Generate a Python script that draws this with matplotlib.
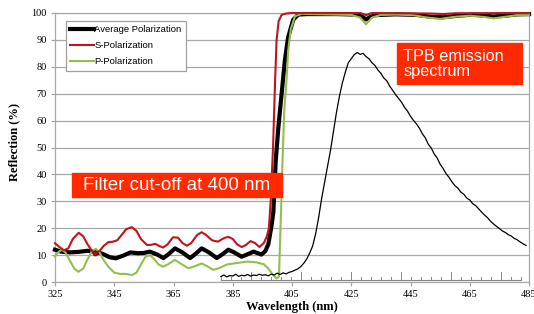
import numpy as np
import matplotlib
matplotlib.use("Agg")
import matplotlib.pyplot as plt
from matplotlib.patches import Rectangle

# reflection curves of the filter (wavelength in nm, reflection in %)
avg_x = [325, 327, 330, 333, 336, 338.5, 341, 343.5, 345.5, 348, 350.5, 353, 355, 357,
         359.5, 361.6, 363.5, 365.5, 368, 370.6, 372.5, 374.5, 377, 379.6, 381.5, 383.5,
         385.5, 388, 390, 392, 394.7, 396, 397, 398.1, 398.7, 399.5, 400.4, 401.5, 402.6,
         403.7, 405.4, 407.1, 410, 420, 427, 428.5, 430, 431.5, 433, 440, 447, 452, 456,
         461, 466, 470, 473, 477, 481, 485]
avg_y = [12, 11.3, 11, 11.2, 11.6, 11.2, 10.5, 9.2, 8.8, 9.8, 11, 10.7, 10.8, 11.3,
         10.2, 8.9, 10.5, 12.5, 11, 8.9, 10.5, 12.5, 11, 8.9, 10.3, 12,
         11, 9.4, 10.3, 11.3, 10.2, 11.5, 14, 21, 26, 45, 57.5, 70, 82.5,
         91, 97.5, 99.4, 99.6, 99.6, 99.4, 98.8, 97.6, 98.6, 99.2, 99.5, 99.3, 98.6, 98.4,
         99.0, 99.4, 99.0, 98.7, 99.0, 99.5, 99.6]

s_x = [325, 326.5, 328, 329.5, 331, 333, 334.5, 336, 337.5, 338.5, 340, 341.5, 343, 344.6,
       346, 347.5, 349, 350.9, 352.5, 354, 356, 357.5, 358.8, 360, 361.5, 363, 364.8,
       366.5, 368, 369.5, 371, 373, 374.5, 376, 378, 380, 382, 383.5, 385, 386.5, 388,
       389.5, 391, 392.5, 394, 395.5, 396.5, 397.2, 397.8, 398.6, 399.3, 399.8, 400.5,
       401.5, 403, 405, 428, 430, 432, 452, 456, 460, 485]
s_y = [14.4, 13, 11.8, 12.5, 16, 18.3, 17, 14, 11.5, 10.8, 11.5, 13.5, 14.8, 15,
       15.5, 17.5, 19.6, 20.4, 19, 16, 13.8, 13.8, 14.2, 13.5, 12.8, 14, 16.6,
       16.5, 14.5, 13.5, 14.5, 17.5, 18.5, 17.5, 15.5, 15, 16.3, 16.8, 16, 14, 13,
       13.8, 15.2, 14.5, 13, 14.5, 17, 20, 30, 50, 75, 90, 97,
       99.3, 99.8, 100, 100, 99.2, 100, 99.8, 99.6, 99.9, 100]

p_x = [325, 326, 327.3, 328.5, 330, 331.5, 332.9, 334.5, 336, 337.5, 338.8, 340, 341.5,
       343, 345, 347, 349, 351, 352.5, 354, 355.5, 357, 358.5, 360, 361.5, 363, 365.5,
       367.5, 370, 372, 374.5, 376.5, 378.4, 380.5, 383, 386, 390, 393, 395.5, 397, 398.7,
       399.8, 400.6, 401.3, 401.8, 402.4, 403.2, 403.7, 404.6, 406, 408.3, 411, 415, 420,
       425, 428, 430, 432, 435, 440, 446, 450, 455, 460, 465, 470, 473, 477, 481, 485]
p_y = [9.4, 11, 12, 11, 8, 5, 3.8, 5, 8.5, 11.5, 12.3, 11, 8,
       5.7, 3.5, 3, 3, 2.6, 3.5, 6.5, 9.3, 10, 8.5, 6.5, 5.7, 6.5, 8.2,
       6.8, 5.1, 5.8, 6.9, 5.8, 4.5, 5.2, 6.5, 7, 7.6, 7.3, 6.6, 5, 2.5,
       1.3, 2, 26, 45, 64, 76, 86, 94, 98.8, 99.7, 99.6, 99.5, 99.4,
       99.3, 98.3, 95.8, 98.3, 99.3, 99.4, 99.2, 98.4, 97.8, 98.6, 99.0, 98.5, 98.0, 98.6, 99.2, 99.2]

# TPB emission spectrum (arbitrary units on the same scale)
tpb_x = list(range(381, 485))
tpb_y = [2.0, 2.6, 1.9, 2.4, 2.2, 2.9, 2.1, 2.5, 2.3, 2.8, 2.2, 2.6, 2.4, 2.9, 2.5, 2.7,
         2.3, 2.9, 2.6, 3.3, 2.8, 3.4, 3.0, 3.6, 3.9, 4.4, 4.9, 5.8, 7.0, 8.6, 10.8, 13.5,
         18, 24, 31, 37, 43, 49, 56, 63, 69, 74, 78, 81.5, 83, 84.5, 85.3, 84.6, 85, 83.8,
         83, 81.5, 80.5, 78.8, 77.6, 75.8, 74.8, 72.8, 71.2, 69.6, 68.2, 66.8, 64.9, 63.5,
         61.6, 60.1, 58.8, 57.2, 55.1, 53.6, 51.2, 49.8, 47.6, 46.1, 43.8, 42.2, 40.3, 38.9,
         37.2, 35.8, 34.9, 33.4, 32.6, 31.2, 30.5, 29.1, 28.4, 27.2, 26.0, 24.9, 23.9, 22.6,
         21.6, 20.7, 19.9, 19.0, 18.4, 17.6, 17.1, 16.2, 15.7, 14.9, 14.2, 13.6]

x_ticks = [325, 345, 365, 385, 405, 425, 445, 465, 485]
y_ticks = [0, 10, 20, 30, 40, 50, 60, 70, 80, 90, 100]

serif = "Liberation Serif"
sans = "Liberation Sans"
box_red = "#ff2a00"
grid_gray = "#a8a8a8"

fig = plt.figure(figsize=(5.34, 3.14), dpi=100)
ax = fig.add_axes([55 / 534, 32 / 314, 474 / 534, 269 / 314])

ax.plot(avg_x, avg_y, color="black", lw=3.0, label="Average Polarization",
        zorder=3, clip_on=False, solid_joinstyle="round")
ax.plot(s_x, s_y, color="#c0141c", lw=1.5, label="S-Polarization", zorder=5, clip_on=False)
ax.plot(p_x, p_y, color="#92c050", lw=1.5, label="P-Polarization", zorder=4, clip_on=False)
# the little dot on the S curve where the three curves cross
k = s_x.index(338.5)
ax.plot(s_x[k], s_y[k], "o", ms=3.5, mfc="#b01018", mec="#700000", mew=0.6, zorder=6)

# emission spectrum with its own little wavelength axis at the bottom
ax.plot(tpb_x, tpb_y, color="black", lw=0.9, zorder=6)
inset_ticks = np.arange(380.9, 485, 3.38)
ax.plot([inset_ticks[0], inset_ticks[-1]], [0.6, 0.6], color="#888888", lw=0.8, zorder=2)
for i, t in enumerate(inset_ticks):
    top = 3.8 if i % 5 == 3 else 2.0
    ax.plot([t, t], [0.6, top], color="#888888", lw=0.7, zorder=2)

ax.set_xlim(325, 485)
ax.set_ylim(0, 100)
ax.set_xticks(x_ticks)
ax.set_yticks(y_ticks)
ax.grid(axis="y", color=grid_gray, lw=0.9)
ax.set_axisbelow(True)
for sp in ax.spines.values():
    sp.set_color(grid_gray)
    sp.set_linewidth(0.9)
ax.tick_params(length=3, color=grid_gray, width=0.9, pad=3, labelsize=7.5)
for lab in ax.get_xticklabels() + ax.get_yticklabels():
    lab.set_fontfamily(serif)

ax.set_xlabel("Wavelength (nm)", fontfamily=serif, fontweight="bold", fontsize=9)
ax.set_ylabel("Reflection (%)", fontfamily=serif, fontweight="bold", fontsize=9)
ax.xaxis.set_label_coords(0.5, -0.072)
ax.yaxis.set_label_coords(-0.074, 0.52)

leg = ax.legend(loc="upper left", bbox_to_anchor=(0.023, 0.970), borderaxespad=0,
                prop={"family": sans, "size": 6.8}, handlelength=2.55, handletextpad=0,
                labelspacing=0.75, borderpad=0.45, fancybox=False, framealpha=1)
leg.get_frame().set_edgecolor("#a0a0a0")
leg.get_frame().set_linewidth(0.9)

# red annotation boxes
ax.add_patch(Rectangle((330.7, 31.6), 70.9, 8.9, color=box_red, zorder=7, clip_on=False))
ax.text(366.2, 36.0, "Filter cut-off at 400 nm", color="white", fontfamily=sans,
        fontsize=13.5, ha="center", va="center", zorder=8)
ax.add_patch(Rectangle((440.4, 73.6), 42.2, 15.2, color=box_red, zorder=7, clip_on=False))
ax.text(442.5, 81.1, "TPB emission\nspectrum", color="white", fontfamily=sans,
        fontsize=11.7, ha="left", va="center", linespacing=1.05, zorder=8)

fig.savefig("out.png", dpi=100)
